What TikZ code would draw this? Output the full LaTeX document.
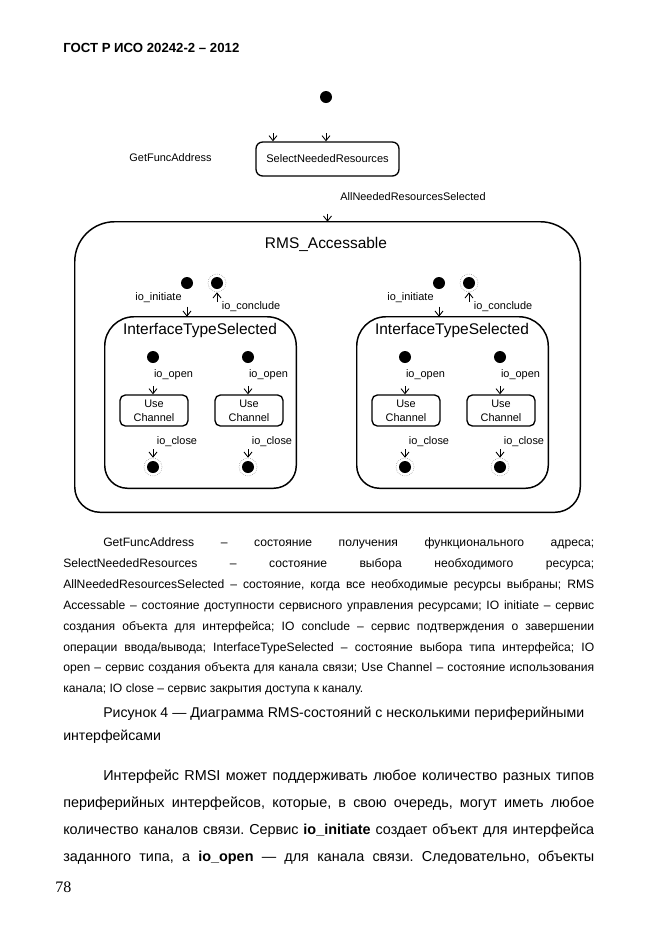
\documentclass[tikz,border=0pt]{standalone}
\usepackage{fontspec}
\setmainfont{Liberation Sans}
\newfontfamily\seriffont{Liberation Serif}
\usetikzlibrary{arrows.meta}
\newcommand\jl[2]{\makebox[#1][s]{#2}}
\frenchspacing
\begin{document}
\begin{tikzpicture}[x=0.75pt,y=-0.75pt,
 lbl/.style={font=\fontsize{8.2}{10}\selectfont, inner sep=0},
 title/.style={font=\fontsize{11.6}{14}\selectfont, inner sep=0},
 initdot/.style={circle, fill=black, minimum size=9pt, inner sep=0},
 findot/.style={circle, draw=gray, densely dotted, line width=0.4pt, minimum size=13.5pt, inner sep=0,
   path picture={\fill[black] (path picture bounding box.center) circle (4.5pt);}},
 conn/.style={-{Straight Barb[length=3.8pt,width=6pt]}, line width=0.65pt},
 smallbox/.style={draw, rounded corners=4pt, line width=1pt, align=center, font=\fontsize{8.2}{10.5}\selectfont, inner sep=0},
 region/.style={inner sep=0},
 border/.style={line width=1.1pt},
 body/.style={font=\fontsize{9.1}{12}\selectfont, anchor=base west, inner sep=0},
 bigtext/.style={font=\fontsize{10.8}{13}\selectfont, anchor=base west, inner sep=0},
 captext/.style={font=\fontsize{10.6}{13}\selectfont, anchor=base west, inner sep=0}
]
\useasboundingbox[fill=white] (0,0) rectangle (661,936);

\node[anchor=base west, inner sep=0, font=\bfseries\fontsize{9.9}{12}\selectfont] (hdr) at (63,52) {ГОСТ Р ИСО 20242-2 – 2012};

% top part
\node[initdot] (i0) at (326,97) {};
\node[draw, rounded corners=5pt, line width=1pt, minimum width=107.25pt, minimum height=25.5pt, inner sep=0,
  font=\fontsize{8.3}{10}\selectfont] (sel) at (327.5,159) {SelectNeededResources};
\node[lbl] (gf) at (170.5,158) {GetFuncAddress};
\coordinate (gfin) at (273,133);
\draw[conn] (gfin) -- (sel.north -| gfin);
\draw[conn, shorten <=22.5pt] (i0) -- (sel.north -| i0);
\node[lbl] (ans) at (413,197) {AllNeededResourcesSelected};

% outer state
\node[region, minimum width=378.75pt, minimum height=217.5pt] (rms) at (327.5,367) {};
\draw[border] (rms.west) [rounded corners=30pt] -- (rms.north west) -- (rms.north east) -- (rms.east)
  [rounded corners=19pt] -- (rms.south east) -- (rms.south west) -- cycle;
\draw[conn, shorten <=27.75pt] (sel.south) -- (rms.north -| sel.south);
\node[title] (rmsl) at (326,244) {RMS\_Accessable};

\foreach \dx/\s in {0/A,252/B}{
  \node[initdot] (ini\s) at (187+\dx,283) {};
  \node[findot] (fin\s) at (217+\dx,283) {};
  \node[region, minimum width=143.25pt, minimum height=128.25pt] (its\s) at (200.5+\dx,402.5) {};
  \draw[border] (its\s.west) [rounded corners=22pt] -- (its\s.north west) -- (its\s.north east) -- (its\s.east)
    [rounded corners=17pt] -- (its\s.south east) -- (its\s.south west) -- cycle;
  \node[title] (itsl\s) at (200+\dx,330) {InterfaceTypeSelected};
  \node[lbl] (lini\s) at (158.5+\dx,298) {io\_initiate};
  \draw[conn, shorten <=13pt] (ini\s) -- (its\s.north -| ini\s);
  \node[lbl] (lcon\s) at (251+\dx,307) {io\_conclude};
  \draw[conn, shorten <=11pt] (its\s.north -| fin\s) -- (fin\s);
  \foreach \ux/\k in {153/1,248/2}{
    \node[initdot] (ia\s\k) at (\ux+\dx,357) {};
    \node[smallbox, minimum width=51pt, minimum height=23.25pt] (uc\s\k) at (\ux+1+\dx,410.5) {Use\\Channel};
    \node[findot] (fa\s\k) at (\ux+\dx,467) {};
    \node[lbl] (lop\s\k) at (\ux+20.5+\dx,375) {io\_open};
    \node[lbl] (lcl\s\k) at (\ux+24+\dx,442) {io\_close};
    \draw[conn, shorten <=17pt] (ia\s\k) -- (uc\s\k.north -| ia\s\k);
    \draw[conn, shorten <=17pt] (uc\s\k.south -| fa\s\k) -- (fa\s\k);
  }
}

% legend text
\node[body] (t1) at (103,546) {\jl{368.25pt}{GetFuncAddress – состояние получения функционального адреса;}};
\node[body] (t2) at (63,567) {\jl{398.25pt}{SelectNeededResources – состояние выбора необходимого ресурса;}};
\node[body] (t3) at (63,588) {\jl{398.25pt}{AllNeededResourcesSelected – состояние, когда все необходимые ресурсы выбраны; RMS}};
\node[body] (t4) at (63,609) {\jl{398.25pt}{Accessable – состояние доступности сервисного управления ресурсами; IO initiate – сервис}};
\node[body] (t5) at (63,630) {\jl{398.25pt}{создания объекта для интерфейса; IO conclude – сервис подтверждения о завершении}};
\node[body] (t6) at (63,651) {\jl{398.25pt}{операции ввода/вывода; InterfaceTypeSelected – состояние выбора типа интерфейса; IO}};
\node[body] (t7) at (63,671) {\jl{398.25pt}{open – сервис создания объекта для канала связи; Use Channel – состояние использования}};
\node[body] (t8) at (63,692) {канала; IO close – сервис закрытия доступа к каналу.};

\node[captext] (cap1) at (103,717) {Рисунок 4 — Диаграмма RMS-состояний с несколькими периферийными};
\node[captext] (cap2) at (63,740) {интерфейсами};

\node[bigtext] (p1) at (103,780) {\jl{368.25pt}{Интерфейс RMSI может поддерживать любое количество разных типов}};
\node[bigtext] (p2) at (63,807) {\jl{398.25pt}{периферийных интерфейсов, которые, в свою очередь, могут иметь любое}};
\node[bigtext] (p3) at (63,834) {\jl{398.25pt}{количество каналов связи. Сервис \textbf{io\_initiate} создает объект для интерфейса}};
\node[bigtext] (p4) at (63,861) {\jl{398.25pt}{заданного типа, а \textbf{io\_open} — для канала связи. Следовательно, объекты}};

\node[anchor=base west, inner sep=0, font=\seriffont\fontsize{12}{14}\selectfont] (pg) at (55,892) {78};
\end{tikzpicture}
\end{document}
